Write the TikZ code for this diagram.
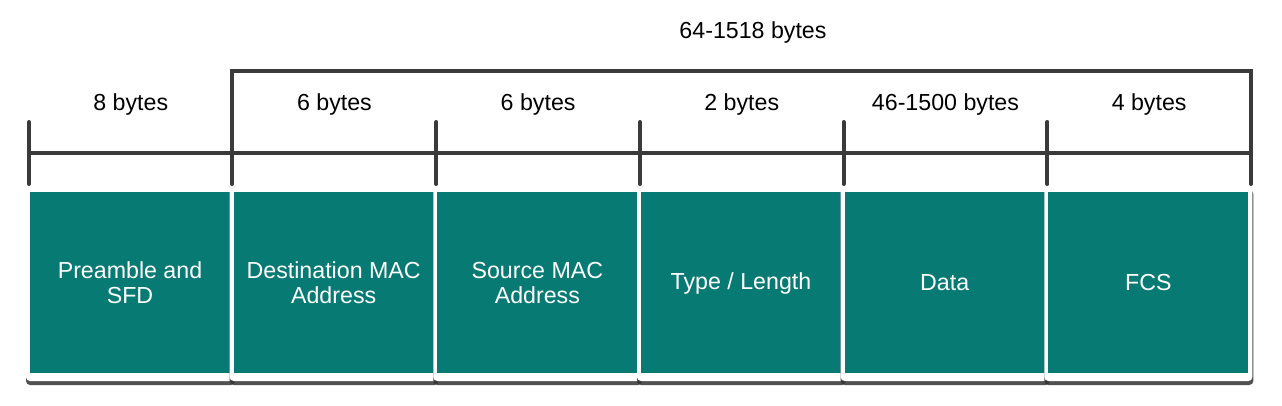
\documentclass[tikz,border=0pt]{standalone}
\usepackage{fontspec}
\setmainfont{Liberation Sans}
\definecolor{fieldteal}{HTML}{077A74}
\definecolor{rulegray}{HTML}{3A3A3A}

\begin{document}
\begin{tikzpicture}[x=.75pt, y=-.75pt, font=\fontsize{17.4}{19}\selectfont,
    rule/.style={draw=rulegray, line width=3pt, line cap=round},
    fieldtext/.style={text=white, align=center}]
  \useasboundingbox (0,0) rectangle (1282,405);
  % frame fields
  \foreach \i/\txt in {0/{Preamble and\\SFD}, 1/{Destination MAC\\Address}, 2/{Source MAC\\Address},
      3/{Type / Length}, 4/{Data}, 5/{FCS}} {
    \pgfmathsetmacro\xl{29+203.67*\i}
    \fill[black!80, opacity=.85, rounded corners=3] (\xl-3,190) rectangle (\xl+206,385);
    \fill[white, rounded corners=3] (\xl-3,187) rectangle (\xl+205,381);
    \fill[fieldteal] (\xl+1,192) rectangle (\xl+201,373);
    \node[fieldtext] (field\i) at (\xl+101,283) {\txt};
  }
  % byte counts
  \draw[rule] (29,153) -- (1251,153);
  \draw[rule] (232,184) -- (232,71) -- (1251,71) -- (1251,184);
  \foreach \i in {0,2,3,4,5} {
    \draw[rule] (29+203.67*\i,122) -- (29+203.67*\i,184);
  }
  \foreach \i/\txt in {0/8 bytes, 1/6 bytes, 2/6 bytes, 3/2 bytes, 4/46-1500 bytes, 5/4 bytes} {
    \node (count\i) at (130.8+203.67*\i,104) {\txt};
  }
  \node (total) at (753,32) {64-1518 bytes};
\end{tikzpicture}
\end{document}
